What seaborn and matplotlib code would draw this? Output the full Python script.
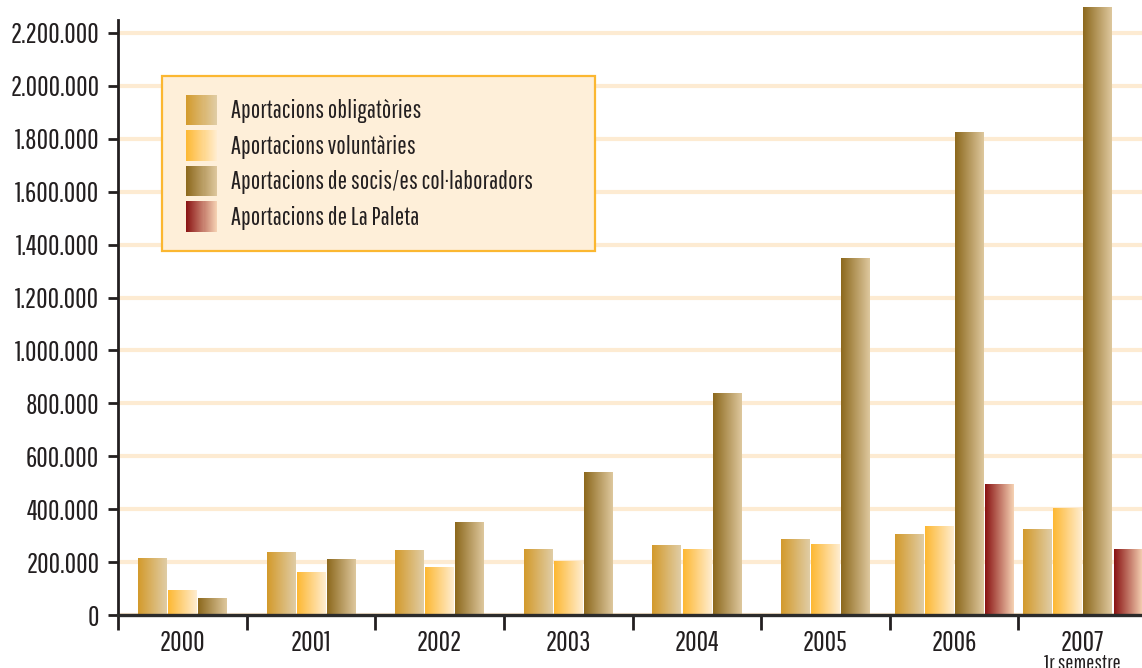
import numpy as np
import pandas as pd
import seaborn as sns
import matplotlib.pyplot as plt
from matplotlib.colors import LinearSegmentedColormap
from matplotlib.patches import Rectangle
from matplotlib.legend_handler import HandlerBase
from matplotlib.ticker import FuncFormatter

years = ["2000", "2001", "2002", "2003", "2004", "2005", "2006", "2007"]
series = ["Aportacions obligatòries", "Aportacions voluntàries",
          "Aportacions de socis/es col·laboradors", "Aportacions de La Paleta"]
oblig = [212000, 238000, 242000, 246000, 261000, 287000, 306000, 325000]
volunt = [94000, 159000, 181000, 204000, 249000, 268000, 336000, 404000]
socis = [64000, 208000, 348000, 537000, 839000, 1346000, 1822000, 2298000]
paleta = [np.nan, np.nan, np.nan, np.nan, np.nan, np.nan, 495000, 249000]

# gradient colors (left -> right) for each series
grads = [("#D39A2B", "#E0CDA6"),
         ("#FDB832", "#FFEDD0"),
         ("#8C681C", "#DEC89E"),
         ("#891212", "#F6D3B4")]
cmaps = [LinearSegmentedColormap.from_list("g%d" % i, c) for i, c in enumerate(grads)]

df = pd.DataFrame({"any": years * 4,
                   "serie": np.repeat(series, len(years)),
                   "valor": np.concatenate([oblig, volunt, socis, paleta])}).dropna()

sns.set_theme(style="white")
plt.rcParams['font.family'] = ['Pathway Gothic One', 'DejaVu Sans']

fig = plt.figure(figsize=(11.42, 6.68), dpi=100)
ax = fig.add_axes([118 / 1142, 53 / 668, 1029 / 1142, 615 / 668])

sns.barplot(data=df, x="any", y="valor", hue="serie", hue_order=series, order=years,
            width=0.935, gap=0.05, dodge=True, errorbar=None, saturation=1,
            legend=False, ax=ax)

# center the bars of each year (some years have only 3 series)
for i in range(len(years)):
    grp = [p for p in ax.patches if abs(p.get_x() + p.get_width() / 2 - i) < 0.5]
    if not grp:
        continue
    lo = min(p.get_x() for p in grp)
    hi = max(p.get_x() + p.get_width() for p in grp)
    shift = i - (lo + hi) / 2
    for p in grp:
        p.set_x(p.get_x() + shift)

# gradient fill
grad = np.linspace(0, 1, 256).reshape(1, -1)
for cont, cm in zip(ax.containers, cmaps):
    for p in cont.patches:
        x0, w, h = p.get_x(), p.get_width(), p.get_height()
        if not np.isfinite(h) or h == 0:
            continue
        ax.imshow(grad, extent=[x0, x0 + w, 0, h], aspect='auto', cmap=cm,
                  zorder=2, interpolation='bilinear')
        p.set_facecolor('none')
        p.set_edgecolor('none')

ax.set_xlim(-0.5, 7.5)
ax.set_ylim(0, 2324700)
ax.set_yticks(np.arange(0, 2200001, 200000))
ax.yaxis.set_major_formatter(FuncFormatter(lambda v, pos: f"{int(v):,}".replace(",", ".")))
ax.set_xlabel("")
ax.set_ylabel("")

ax.set_axisbelow(True)
ax.yaxis.grid(True, color="#FDEBD2", linewidth=3)
ax.xaxis.grid(False)

for s in ["top", "right"]:
    ax.spines[s].set_visible(False)
ax.spines["left"].set_color("#231F20")
ax.spines["left"].set_linewidth(2)
ax.spines["left"].set_bounds(0, 2249000)
ax.spines["bottom"].set_color("#2B2B2B")
ax.spines["bottom"].set_linewidth(2.4)
ax.spines["left"].set_zorder(3)
ax.spines["bottom"].set_zorder(3)

ax.tick_params(axis="y", direction="out", length=7.5, width=2, color="#231F20",
               pad=6, labelsize=20, labelcolor="#231F20", left=True)
ax.tick_params(axis="x", which="major", length=0, pad=11, labelsize=20, labelcolor="#231F20")
ax.set_xticks(np.arange(-0.5, 8, 1), minor=True)
ax.tick_params(axis="x", which="minor", direction="out", length=11, width=2,
               color="#231F20", bottom=True)

ax.annotate("1r semestre", xy=(7, 0), xycoords=("data", "axes fraction"),
            xytext=(0, -28), textcoords="offset points", ha="center", va="top",
            fontsize=15.5, color="#231F20", annotation_clip=False)


class GradHandler(HandlerBase):
    def __init__(self, cmap, lead=0.14):
        super().__init__()
        self.cmap = cmap
        self.lead = lead

    def create_artists(self, legend, orig_handle, xdescent, ydescent, width, height,
                       fontsize, trans):
        n = 30
        x0 = -xdescent + width * self.lead
        w = width * (1 - self.lead)
        arts = []
        for k in range(n):
            arts.append(Rectangle((x0 + k * w / n, -ydescent), w / n * 1.05, height,
                                  facecolor=self.cmap((k + 0.5) / n), edgecolor='none',
                                  linewidth=0, transform=trans))
        return arts


handles = [Rectangle((0, 0), 1, 1) for _ in series]
hmap = {h: GradHandler(cm) for h, cm in zip(handles, cmaps)}
leg = fig.legend(handles, series, handler_map=hmap, loc="upper left",
                 bbox_to_anchor=(162 / 1142, 1 - 76 / 668 - 0.01, 433 / 1142, 0.01),
                 mode="expand", fontsize=18, frameon=True, fancybox=False,
                 framealpha=1, facecolor="#FEEFD9", edgecolor="#FBB731",
                 handlelength=1.45, handleheight=1.5, handletextpad=0.56,
                 labelspacing=0.2, borderpad=0.75, borderaxespad=0)
leg.get_frame().set_linewidth(1.6)
for t in leg.get_texts():
    t.set_color("#231F20")

plt.savefig("out.png", dpi=100)
